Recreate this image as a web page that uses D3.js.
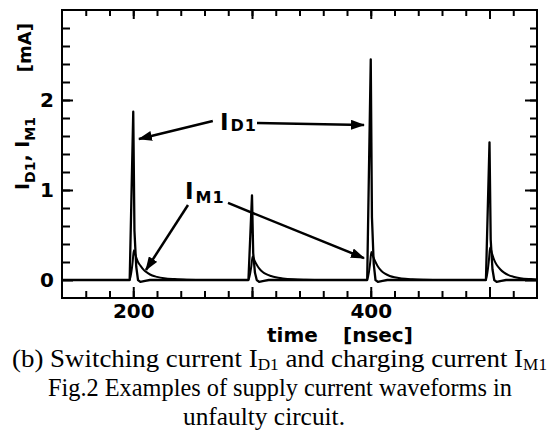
<!DOCTYPE html>
<html><head><meta charset="utf-8">
<script src="https://cdn.jsdelivr.net/npm/d3@7"></script>
<style>body{margin:0;background:#fff} svg{display:block}</style>
</head><body>
<svg id="chart" width="550" height="438"></svg>
<script>
// ---- data ----
const pulseTimes = [200, 300, 400, 500];
// I_D1 switching current spikes: time offsets from each pulse [nsec] and values [mA]
const idOffsets = [-3, 0, 1, 2.5, 4, 6, 10, 14];
const id200 = [0, 1.87, 0.55, 0.15, 0, -0.02, -0.01, 0];
const id300 = [0, 0.94, 0.30, 0.08, 0, -0.02, -0.01, 0];
const id400 = [0, 2.45, 0.70, 0.18, 0, -0.02, -0.01, 0];
const id500 = [0, 1.53, 0.45, 0.12, 0, -0.02, -0.01, 0];
// I_M1 charging current pulses
const imOffsets = [-3, -0.5, 0.5, 2, 4, 6, 9, 12, 16, 20, 26, 35, 45, 60];
const im200 = [0, 0.20, 0.33, 0.27, 0.20, 0.16, 0.11, 0.08, 0.05, 0.035, 0.02, 0.01, 0.004, 0];
const im300 = [0, 0.16, 0.26, 0.22, 0.17, 0.13, 0.09, 0.065, 0.045, 0.03, 0.018, 0.008, 0.003, 0];
const im400 = [0, 0.19, 0.31, 0.26, 0.20, 0.15, 0.10, 0.07, 0.045, 0.03, 0.017, 0.008, 0.003, 0];
const im500 = [0, 0.22, 0.36, 0.30, 0.22, 0.17, 0.12, 0.085, 0.055, 0.037, 0.02, 0.01, 0.004, 0];
const xDomain = [140, 540];
const yDomain = [-0.2, 3.0];
const xTickMinor = [160, 180, 200, 220, 240, 260, 280, 300, 320, 340, 360, 380, 400, 420, 440, 460, 480, 500, 520];
const xTickMajor = [200, 300, 400, 500];
const xTickLabels = [200, 400];
const yTickMinor = [0.2, 0.4, 0.6, 0.8, 1.0, 1.2, 1.4, 1.6, 1.8, 2.0, 2.2, 2.4, 2.6, 2.8];
const yTickMajor = [0, 1, 2];
// annotations in data units [time, mA]
const labelID = [273, 1.667];
const arrowsID = [[[267, 1.767], [204.8, 1.567]], [[304.2, 1.744], [394.3, 1.722]]];
const labelIM = [243.6, 0.9];
const arrowsIM = [[[246.1, 0.833], [210.7, 0.111]], [[279.8, 0.856], [394.3, 0.244]]];

// ---- build ----
const svg = d3.select("#chart");
const x = d3.scaleLinear().domain(xDomain).range([62, 537]);
const y = d3.scaleLinear().domain(yDomain).range([298, 10]);
const SANS = "'DejaVu Sans', sans-serif";
const SERIF = "'Liberation Serif', 'Times New Roman', serif";

function series(offsets, groups) {
  const pts = [[xDomain[0], 0]];
  pulseTimes.forEach((p, i) => offsets.forEach((o, j) => pts.push([p + o, groups[i][j]])));
  pts.push([xDomain[1] + 30, 0]);
  return pts;
}
const idPts = series(idOffsets, [id200, id300, id400, id500]);
const imPts = series(imOffsets, [im200, im300, im400, im500]);

svg.append("defs").append("clipPath").attr("id", "clip")
  .append("rect").attr("x", x(xDomain[0])).attr("y", y(yDomain[1]))
  .attr("width", x(xDomain[1]) - x(xDomain[0])).attr("height", y(yDomain[0]) - y(yDomain[1]));

const plot = svg.append("g").attr("clip-path", "url(#clip)");
plot.append("path").datum(imPts)
  .attr("d", d3.line().x(d => x(d[0])).y(d => y(d[1])).curve(d3.curveMonotoneX))
  .attr("fill", "none").attr("stroke", "#000").attr("stroke-width", 2);
plot.append("path").datum(idPts)
  .attr("d", d3.line().x(d => x(d[0])).y(d => y(d[1])))
  .attr("fill", "none").attr("stroke", "#000").attr("stroke-width", 2.3).attr("stroke-linejoin", "round");

function styleAxis(g) {
  g.select(".domain").remove();
  g.selectAll(".tick line").attr("stroke", "#000").attr("stroke-width", 2);
  g.selectAll("text").attr("font-family", SANS).attr("font-size", 20)
    .attr("font-weight", "bold").attr("fill", "#000");
}
const fmtX = d => xTickLabels.includes(d) ? d : "";
svg.append("g").attr("transform", `translate(0,${y(yDomain[0])})`)
  .call(d3.axisBottom(x).tickValues(xTickMinor).tickSize(-7).tickSizeOuter(0).tickFormat("")).call(styleAxis);
svg.append("g").attr("transform", `translate(0,${y(yDomain[0])})`)
  .call(d3.axisBottom(x).tickValues(xTickMajor).tickSize(-11).tickSizeOuter(0).tickPadding(6).tickFormat(fmtX)).call(styleAxis);
svg.append("g").attr("transform", `translate(0,${y(yDomain[1])})`)
  .call(d3.axisTop(x).tickValues(xTickMinor).tickSize(-6).tickSizeOuter(0).tickFormat("")).call(styleAxis);
svg.append("g").attr("transform", `translate(0,${y(yDomain[1])})`)
  .call(d3.axisTop(x).tickValues(xTickMajor).tickSize(-9).tickSizeOuter(0).tickFormat("")).call(styleAxis);
svg.append("g").attr("transform", `translate(${x(xDomain[0])},0)`)
  .call(d3.axisLeft(y).tickValues(yTickMinor).tickSize(-8).tickSizeOuter(0).tickFormat("")).call(styleAxis);
svg.append("g").attr("transform", `translate(${x(xDomain[0])},0)`)
  .call(d3.axisLeft(y).tickValues(yTickMajor).tickSize(-11).tickSizeOuter(0).tickPadding(8).tickFormat(d3.format("d"))).call(styleAxis);
svg.append("g").attr("transform", `translate(${x(xDomain[1])},0)`)
  .call(d3.axisRight(y).tickValues(yTickMinor).tickSize(-7).tickSizeOuter(0).tickFormat("")).call(styleAxis);
svg.append("g").attr("transform", `translate(${x(xDomain[1])},0)`)
  .call(d3.axisRight(y).tickValues(yTickMajor).tickSize(-12).tickSizeOuter(0).tickFormat("")).call(styleAxis);

svg.append("rect").attr("x", x(xDomain[0])).attr("y", y(yDomain[1]))
  .attr("width", x(xDomain[1]) - x(xDomain[0])).attr("height", y(yDomain[0]) - y(yDomain[1]))
  .attr("fill", "none").attr("stroke", "#000").attr("stroke-width", 2);

// arrowhead marker
svg.select("defs").append("marker").attr("id", "ah")
  .attr("markerUnits", "userSpaceOnUse").attr("viewBox", "0 0 14 10")
  .attr("refX", 13).attr("refY", 5).attr("markerWidth", 14).attr("markerHeight", 10)
  .attr("orient", "auto")
  .append("path").attr("d", "M0,0 L14,5 L0,10 Z").attr("fill", "#000");

[...arrowsID, ...arrowsIM].forEach(a => {
  svg.append("line")
    .attr("x1", x(a[0][0])).attr("y1", y(a[0][1]))
    .attr("x2", x(a[1][0])).attr("y2", y(a[1][1]))
    .attr("stroke", "#000").attr("stroke-width", 2.5).attr("marker-end", "url(#ah)");
});

function subLabel(pos, sub, dy) {
  const t = svg.append("text").attr("x", x(pos[0])).attr("y", y(pos[1]))
    .attr("font-family", SANS).attr("font-weight", "bold").attr("fill", "#000");
  t.append("tspan").attr("font-size", 23).text("I");
  t.append("tspan").attr("font-size", 16).attr("dx", 2).attr("dy", dy).attr("letter-spacing", 1).text(sub);
}
subLabel(labelID, "D1", 1);
subLabel(labelIM, "M1", 4);

// axis titles
const xt = svg.append("g").attr("font-family", SANS).attr("font-weight", "bold").attr("font-size", 20).attr("fill", "#000");
xt.append("text").attr("x", 267).attr("y", 342).text("time");
xt.append("text").attr("x", 343).attr("y", 342).text("[nsec]");

const yl = svg.append("text").attr("transform", "translate(29,0) rotate(-90)")
  .attr("x", -190).attr("y", 0)
  .attr("font-family", SANS).attr("font-weight", "bold").attr("font-size", 19).attr("fill", "#000");
yl.append("tspan").text("I");
yl.append("tspan").attr("font-size", 14).attr("dy", 6).text("D1");
yl.append("tspan").attr("dy", -6).text(", I");
yl.append("tspan").attr("font-size", 14).attr("dy", 6).text("M1");
svg.append("text").attr("transform", "translate(31,0) rotate(-90)")
  .attr("x", -23).attr("y", 0).attr("text-anchor", "end")
  .attr("font-family", SANS).attr("font-weight", "bold").attr("font-size", 18).attr("fill", "#000")
  .text("[mA]");

// caption
const cap = svg.append("g").attr("font-family", SERIF).attr("font-size", 25).attr("fill", "#000");
const c1 = cap.append("text").attr("x", 12).attr("y", 367)
  .attr("textLength", 535).attr("lengthAdjust", "spacingAndGlyphs");
c1.append("tspan").text("(b) Switching current I");
c1.append("tspan").attr("font-size", 16).attr("dy", 3).text("D1");
c1.append("tspan").attr("dy", -3).text(" and charging current I");
c1.append("tspan").attr("font-size", 16).attr("dy", 3).text("M1");
cap.append("text").attr("x", 48).attr("y", 396)
  .attr("textLength", 464).attr("lengthAdjust", "spacingAndGlyphs")
  .text("Fig.2 Examples of supply current waveforms in");
cap.append("text").attr("x", 183).attr("y", 425)
  .attr("textLength", 162).attr("lengthAdjust", "spacingAndGlyphs")
  .text("unfaulty circuit.");
</script>
</body></html>
